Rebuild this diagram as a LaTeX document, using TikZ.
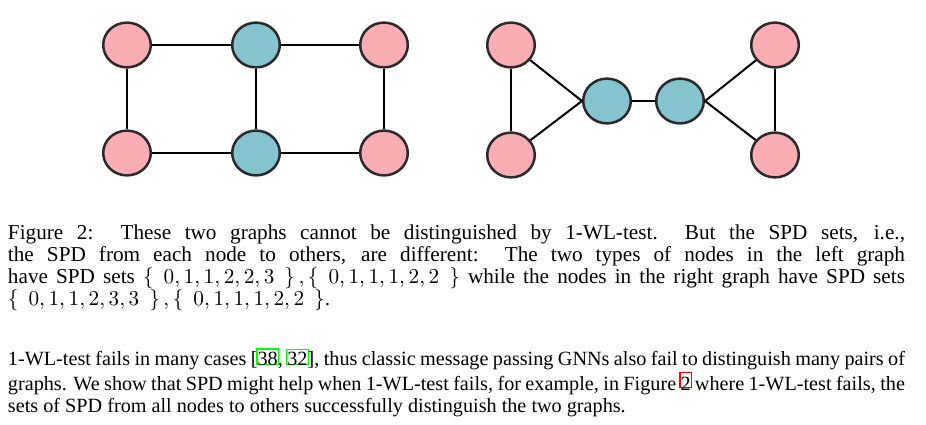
\RequirePackage{fix-cm}
\documentclass[tikz,border=0pt]{standalone}
\usepackage[no-math]{fontspec}
\setmainfont{Liberation Serif}
\usetikzlibrary{shapes.geometric}
\definecolor{pinkfill}{RGB}{249,173,179}
\definecolor{bluefill}{RGB}{133,195,207}
\definecolor{nodeborder}{RGB}{42,42,42}
\definecolor{citegreen}{RGB}{0,255,0}
\definecolor{refred}{RGB}{255,0,0}
\newcommand\linkbox[3][1.2pt]{\leavevmode\rlap{\raisebox{#1}{\hspace{-0.7pt}\textcolor{#2}{\setlength\fboxsep{0pt}\setlength\fboxrule{0.7pt}\fbox{\phantom{#3}}}}}#3}
\newcommand\spdset[1]{\{\mkern8.5mu #1\mkern8.5mu\}}
\tikzset{
  gnode/.style={ellipse, draw=nodeborder, line width=1.25pt, minimum width=23.8pt, minimum height=22.4pt, inner sep=0pt},
  pinknode/.style={gnode, fill=pinkfill},
  bluenode/.style={gnode, fill=bluefill},
  gedge/.style={line width=1pt, black},
  textblock/.style={anchor=base west, inner sep=0pt, outer sep=0pt}
}
\begin{document}
\begin{tikzpicture}[x=0.5pt, y=-0.5pt]
\useasboundingbox (0,0) rectangle (926,424);
% left graph
\node[pinknode] (a) at (127,45) {};
\node[bluenode] (b) at (256,45) {};
\node[pinknode] (c) at (384,45) {};
\node[pinknode] (d) at (127,153) {};
\node[bluenode] (e) at (256,153) {};
\node[pinknode] (f) at (384,153) {};
\draw[gedge] (a) -- (b);
\draw[gedge] (b) -- (c);
\draw[gedge] (d) -- (e);
\draw[gedge] (e) -- (f);
\draw[gedge] (a) -- (d);
\draw[gedge] (b) -- (e);
\draw[gedge] (c) -- (f);
% right graph
\node[pinknode] (p1) at (511,45) {};
\node[pinknode] (p2) at (511,155) {};
\node[bluenode] (q1) at (607,101) {};
\node[bluenode] (q2) at (680,101) {};
\node[pinknode] (p3) at (775,45) {};
\node[pinknode] (p4) at (775,155) {};
\draw[gedge] (p1) -- (p2);
\draw[gedge] (p1) -- (q1.west);
\draw[gedge] (p2) -- (q1.west);
\draw[gedge] (q1) -- (q2);
\draw[gedge] (p3) -- (q2.east);
\draw[gedge] (p4) -- (q2.east);
\draw[gedge] (p3) -- (p4);
% caption
\node[textblock] (caption) at (8,239) {\parbox[t]{448.5pt}{\fontsize{10.6}{11}\selectfont
Figure 2:\ \ These two graphs cannot be distinguished by 1-WL-test.\ \ But the SPD sets, i.e.,\linebreak
the SPD from each node to others, are different:\ \ The two types of nodes in the left graph\linebreak
have SPD sets $\spdset{0, 1, 1, 2, 2, 3}\,, \spdset{0, 1, 1, 1, 2, 2}$ while the nodes in the right graph have SPD sets\linebreak
$\spdset{0, 1, 1, 2, 3, 3}\,, \spdset{0, 1, 1, 1, 2, 2}$.}};
% body paragraph
\node[textblock] (body) at (8,365.7) {\parbox[t]{448.5pt}{\fontsize{10.1}{11}\selectfont
1-WL-test fails in many cases [\linkbox{citegreen}{38}, \linkbox{citegreen}{32}], thus classic message passing GNNs also fail to distinguish many pairs of\linebreak
graphs. We show that SPD might help when 1-WL-test fails, for example, in Figure~\linkbox[1.8pt]{refred}{2} where 1-WL-test fails, the\linebreak
sets of SPD from all nodes to others successfully distinguish the two graphs.}};
\end{tikzpicture}
\end{document}
